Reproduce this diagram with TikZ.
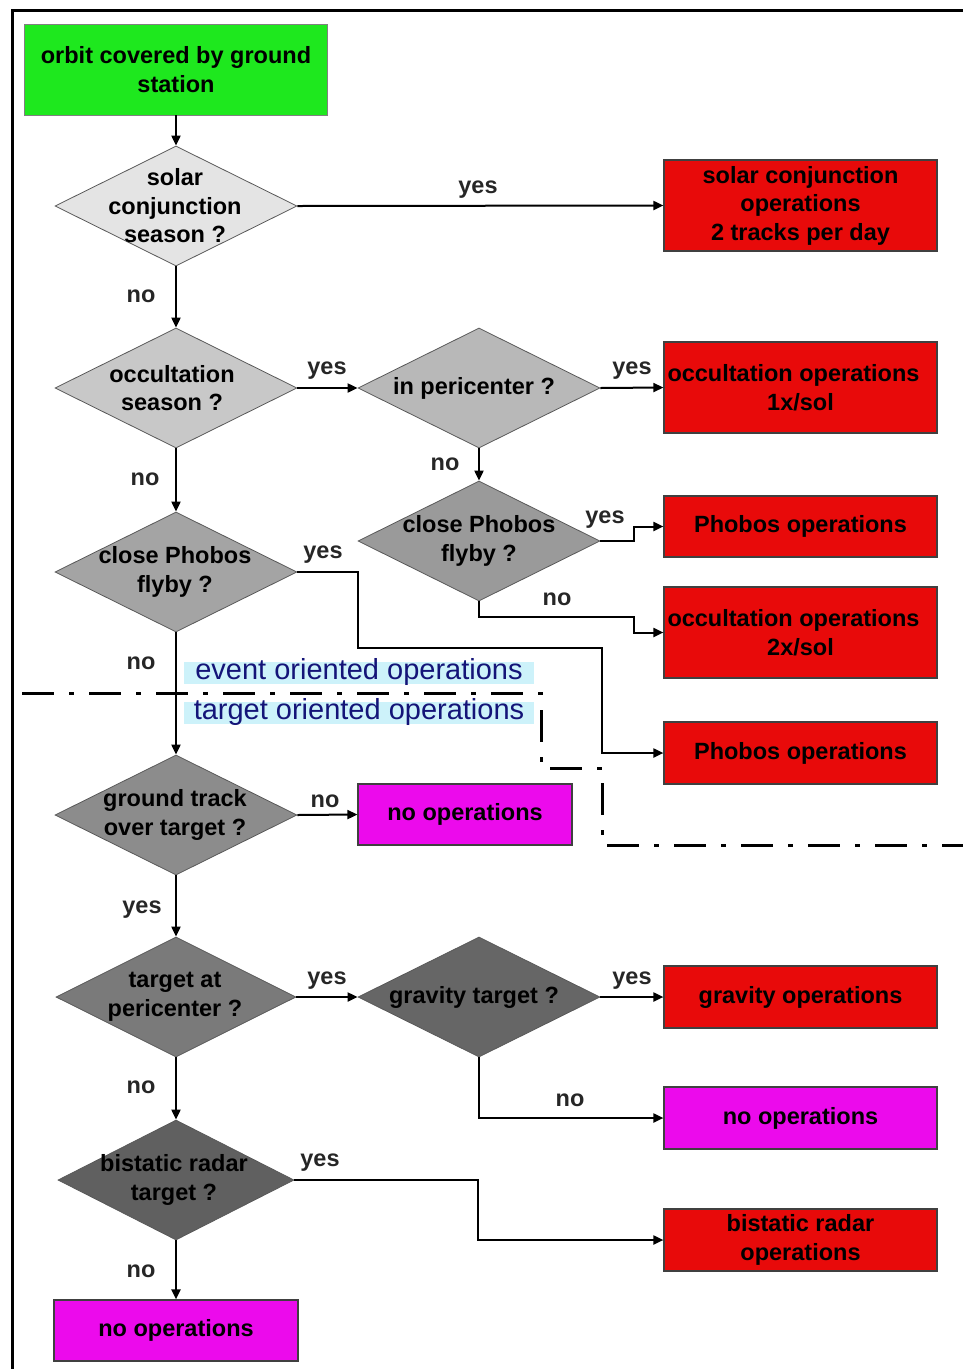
\documentclass[tikz,border=0pt]{standalone}
\usepackage{fontspec}
\setmainfont{Liberation Sans}
\usetikzlibrary{arrows.meta,shapes.geometric}
\definecolor{redc}{RGB}{232,10,10}
\definecolor{magc}{RGB}{236,10,236}
\definecolor{greenc}{RGB}{30,232,30}
\definecolor{navyc}{RGB}{20,20,120}
\definecolor{cyanbg}{RGB}{205,242,250}
\begin{document}
\begin{tikzpicture}[x=1pt,y=-1pt,
  every node/.style={font=\fontsize{23.5}{28.5}\selectfont\bfseries, inner sep=0pt},
  opbox/.style={rectangle, draw=black!75, line width=1.2pt, align=center, minimum width=273pt},
  redbox/.style={opbox, fill=redc},
  magbox/.style={opbox, fill=magc},
  decision/.style={diamond, draw=black!65, line width=0.8pt, minimum width=242pt, minimum height=120pt, inner sep=0pt},
  dtext/.style={align=center, text=black},
  arr/.style={line width=2pt, -{Triangle[length=10pt,width=9pt]}},
  lab/.style={anchor=base, text=black!85},
  zone/.style={font=\fontsize{29}{30}\selectfont, text=navyc, fill=cyanbg, minimum width=350pt, text height=17pt, text depth=5pt},
  sep/.style={line width=3pt, dash pattern=on 32pt off 15pt on 5pt off 15pt}
]
\useasboundingbox (0,0) rectangle (963,1369);
\draw[line width=3pt] (12,1369) -- (12,10) -- (963,10);

% start
\node[rectangle, draw=black!50, line width=0.8pt, fill=greenc, minimum width=303pt, minimum height=91pt, align=center] (g) at (176,69.5) {orbit covered by ground\\station};

% decisions
\node[decision, fill={rgb,255:red,228;green,228;blue,228}] (d1) at (176,206) {};
\node[dtext] (d1t) at (175,206) {solar\\conjunction\\season ?};
\node[decision, fill={rgb,255:red,200;green,200;blue,200}] (d2) at (176,388) {};
\node[dtext] (d2t) at (172,388) {occultation\\season ?};
\node[decision, fill={rgb,255:red,184;green,184;blue,184}] (d3) at (479,388) {};
\node[dtext] (d3t) at (474,388) {in pericenter ?};
\node[decision, fill={rgb,255:red,154;green,154;blue,154}] (d4) at (479,541) {};
\node[dtext] (d4t) at (479,541) {close Phobos\\flyby ?};
\node[decision, fill={rgb,255:red,164;green,164;blue,164}] (d5) at (176,572) {};
\node[dtext] (d5t) at (175,572) {close Phobos\\flyby ?};
\node[decision, fill={rgb,255:red,140;green,140;blue,140}] (d6) at (176,815) {};
\node[dtext] (d6t) at (175,815) {ground track\\over target ?};
\node[decision, fill={rgb,255:red,122;green,122;blue,122}, minimum width=240pt] (d7) at (176,997) {};
\node[dtext] (d7t) at (175,997) {target at\\pericenter ?};
\node[decision, fill={rgb,255:red,102;green,102;blue,102}] (d8) at (479,997) {};
\node[dtext] (d8t) at (474,997) {gravity target ?};
\node[decision, fill={rgb,255:red,96;green,96;blue,96}, minimum width=236pt] (d9) at (176,1180) {};
\node[dtext] (d9t) at (174,1180) {bistatic radar\\target ?};

% outcomes
\node[redbox, minimum height=91pt] (r1) at (800.5,205.5) {solar conjunction\\operations\\ 2 tracks per day};
\node[redbox, minimum height=91pt] (r2) at (800.5,387.5) {\hspace*{-14pt}occultation operations\\1x/sol};
\node[redbox, minimum height=61pt] (r3) at (800.5,526.5) {Phobos operations};
\node[redbox, minimum height=91pt] (r4) at (800.5,632.5) {\hspace*{-14pt}occultation operations\\2x/sol};
\node[redbox, minimum height=62pt] (r5) at (800.5,753) {Phobos operations};
\node[magbox, minimum width=214pt, minimum height=61pt] (m1) at (465,814.5) {no operations};
\node[redbox, minimum height=62pt] (r6) at (800.5,997) {gravity operations};
\node[magbox, minimum height=62pt] (m2) at (800.5,1118) {no operations};
\node[redbox, minimum height=62pt] (r7) at (800.5,1240) {bistatic radar\\operations};
\node[magbox, minimum width=244pt, minimum height=61pt] (m3) at (176,1330.5) {no operations};

% zone labels and separator
\node[zone] (ev) at (359,673) {event oriented operations};
\node[zone] (tg) at (359,713) {target oriented operations};
\coordinate (s0) at (22,693);
\coordinate (s1) at (541,693);
\coordinate (s2) at (541,768);
\coordinate (s3) at (602,768);
\coordinate (s4) at (602,845);
\coordinate (s5) at (963,845);
\draw[sep] (s0) -- (s1) -- (s2) -- (s3) -- (s4) -- (s5);

% connectors
\draw[arr] (g.south) -- (d1.north);
\draw[arr] (d1.east) -- (r1.west);
\draw[arr] (d1.south) -- (d2.north);
\draw[arr] (d2.east) -- (d3.west);
\draw[arr] (d3.east) -- (r2.west);
\draw[arr] (d3.south) -- (d4.north);
\coordinate (b4a) at (634,541);
\draw[arr] (d4.east) -- (b4a) |- (r3.west);
\coordinate (b4b) at (634,617);
\draw[arr] (d4.south) |- (b4b) |- (r4.west);
\draw[arr] (d2.south) -- (d5.north);
\coordinate (b5a) at (358,572);
\coordinate (b5b) at (358,648);
\coordinate (b5c) at (602,648);
\draw[arr] (d5.east) -- (b5a) -- (b5b) -- (b5c) |- (r5.west);
\draw[arr] (d5.south) -- (d6.north);
\draw[arr] (d6.east) -- (m1.west);
\draw[arr] (d6.south) -- (d7.north);
\draw[arr] (d7.east) -- (d8.west);
\draw[arr] (d8.east) -- (r6.west);
\draw[arr] (d8.south) |- (m2.west);
\draw[arr] (d7.south) -- (d9.north);
\coordinate (b9) at (478,1180);
\draw[arr] (d9.east) -- (b9) |- (r7.west);
\draw[arr] (d9.south) -- (m3.north);

% labels
\node[lab] (l1) at (478,193) {yes};
\node[lab] (l2) at (141,302) {no};
\node[lab] (l3) at (327,374) {yes};
\node[lab] (l4) at (632,374) {yes};
\node[lab] (l5) at (445,470) {no};
\node[lab] (l6) at (605,523) {yes};
\node[lab] (l7) at (557,605) {no};
\node[lab] (l8) at (145,485) {no};
\node[lab] (l9) at (323,558) {yes};
\node[lab] (l10) at (141,669) {no};
\node[lab] (l11) at (325,807) {no};
\node[lab] (l12) at (142,913) {yes};
\node[lab] (l13) at (327,984) {yes};
\node[lab] (l14) at (632,984) {yes};
\node[lab] (l15) at (570,1106) {no};
\node[lab] (l16) at (141,1093) {no};
\node[lab] (l17) at (320,1166) {yes};
\node[lab] (l18) at (141,1277) {no};
\end{tikzpicture}
\end{document}
